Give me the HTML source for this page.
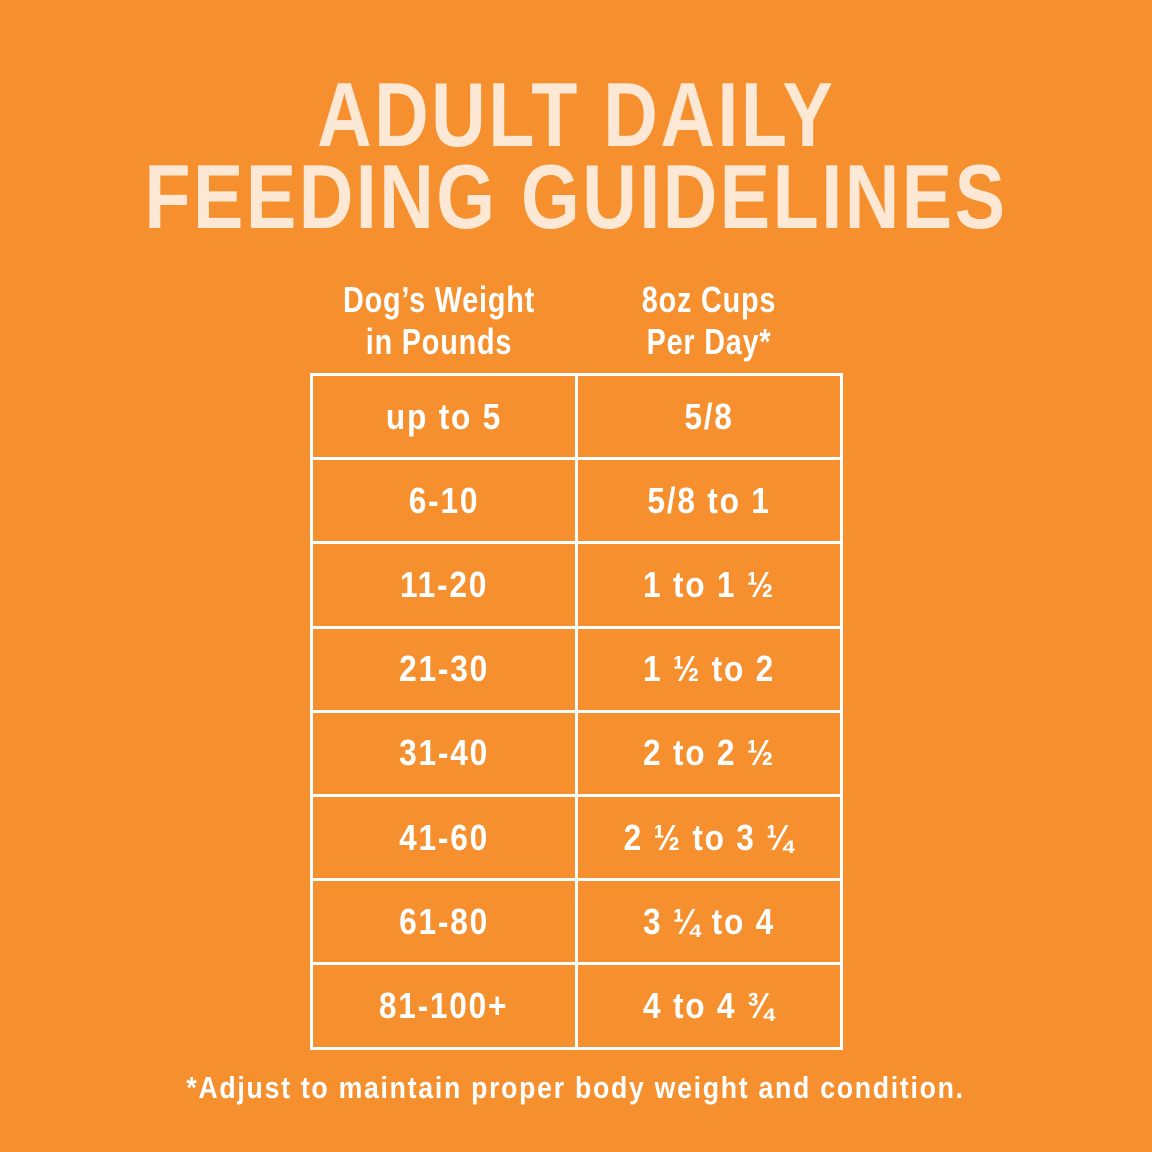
<!DOCTYPE html>
<html><head><meta charset="utf-8"><style>
html,body{margin:0;padding:0}
body{width:1152px;height:1152px;background:#F6902E;position:relative;overflow:hidden;font-family:"Liberation Sans",sans-serif;font-weight:bold}
.t{position:absolute;left:0;width:1152px;text-align:center;white-space:nowrap}
.s{display:inline-block;transform:scaleX(0.8);transform-origin:center}
.title{color:#FCE8D5;font-size:91px;line-height:91px;letter-spacing:3px}
.hd{color:#fff;font-size:36px;line-height:42px;position:absolute;text-align:center;width:300px;white-space:nowrap;letter-spacing:1px}
table{position:absolute;left:310px;top:373px;border-collapse:collapse}
td{border:3px solid #fff;width:262px;height:81.2px;padding:0;text-align:center;color:#fff;font-size:36px;letter-spacing:2px}
td .s{transform:scaleX(0.88)}
.foot{color:#fff;font-size:31px;top:1070px}
</style></head><body>
<div class="t title" style="top:70px"><span class="s" style="transform:scaleX(0.83)">ADULT DAILY</span></div>
<div class="t title" style="top:152px"><span class="s" style="transform:scaleX(0.83)">FEEDING GUIDELINES</span></div>
<div class="hd" style="left:289px;top:279px"><span class="s">Dog’s Weight<br>in Pounds</span></div>
<div class="hd" style="left:559px;top:279px"><span class="s">8oz Cups<br>Per Day*</span></div>
<table>
<tr><td><span class="s">up to 5</span></td><td><span class="s">5/8</span></td></tr>
<tr><td><span class="s">6-10</span></td><td><span class="s">5/8 to 1</span></td></tr>
<tr><td><span class="s">11-20</span></td><td><span class="s">1 to 1 ½</span></td></tr>
<tr><td><span class="s">21-30</span></td><td><span class="s">1 ½ to 2</span></td></tr>
<tr><td><span class="s">31-40</span></td><td><span class="s">2 to 2 ½</span></td></tr>
<tr><td><span class="s">41-60</span></td><td><span class="s">2 ½ to 3 ¼</span></td></tr>
<tr><td><span class="s">61-80</span></td><td><span class="s">3 ¼ to 4</span></td></tr>
<tr><td><span class="s">81-100+</span></td><td><span class="s">4 to 4 ¾</span></td></tr>
</table>
<div class="t foot"><span class="s" style="transform:scaleX(0.86);letter-spacing:2px">*Adjust to maintain proper body weight and condition.</span></div>
</body></html>
